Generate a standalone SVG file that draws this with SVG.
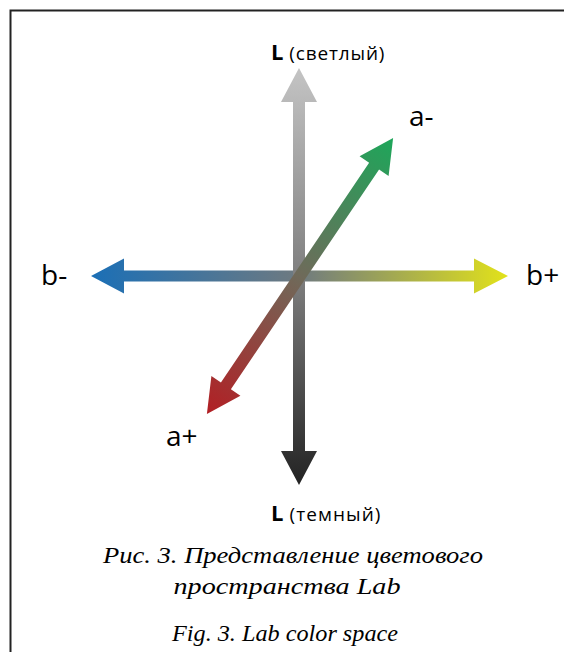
<svg xmlns="http://www.w3.org/2000/svg" width="564" height="652" viewBox="0 0 564 652">
<defs>
<linearGradient id="gV" x1="0" y1="0" x2="0" y2="1">
<stop offset="0" stop-color="#c4c4c4"/>
<stop offset="0.5" stop-color="#7f7f7f"/>
<stop offset="1" stop-color="#232323"/>
</linearGradient>
<linearGradient id="gH" x1="0" y1="0" x2="1" y2="0">
<stop offset="0" stop-color="#1b6fb6"/>
<stop offset="0.5" stop-color="#6f7a80"/>
<stop offset="1" stop-color="#e2e21a"/>
</linearGradient>
<linearGradient id="gD" x1="0" y1="0" x2="1" y2="0">
<stop offset="0" stop-color="#b21f24"/>
<stop offset="0.5" stop-color="#6f6a5a"/>
<stop offset="1" stop-color="#1ea65a"/>
</linearGradient>
</defs>
<style>
.lbl{font-family:"Open Sans","Noto Sans",sans-serif;fill:#000}
.ax{font-size:28px}
.cap{font-family:"Liberation Serif","Times New Roman",serif;font-style:italic;font-size:24px;fill:#000;text-anchor:middle}
</style>
<g id="frame" fill="none" stroke="#222" stroke-width="2">
<path d="M10.5 652 V10.5 H564"/>
</g>
<g id="connectors">
<g id="axis-b">
<path fill="url(#gH)" d="M91 276 L124 258.5 L124 270.5 L474 270.5 L474 258.5 L508 276 L474 293.5 L474 281.5 L124 281.5 L124 293.5 Z"/>
</g>
<g id="axis-L">
<path fill="url(#gV)" d="M299 68 L317 102 L305 102 L305 451 L317 451 L299 485 L281 451 L293 451 L293 102 L281 102 Z"/>
</g>
<g id="axis-a" transform="translate(300 276) rotate(-56)">
<path fill="url(#gD)" d="M-166.5 0 L-132.5 -17.5 L-132.5 -6 L132.5 -6 L132.5 -17.5 L166.5 0 L132.5 17.5 L132.5 6 L-132.5 6 L-132.5 17.5 Z"/>
</g>
</g>
<g id="label-Ltop"><text class="lbl" x="271" y="60"><tspan font-weight="bold" font-size="22">L</tspan><tspan font-size="19" textLength="101"> (светлый)</tspan></text></g>
<g id="label-Lbot"><text class="lbl" x="271" y="521"><tspan font-weight="bold" font-size="22">L</tspan><tspan font-size="19" textLength="97"> (темный)</tspan></text></g>
<g id="label-aminus"><text class="lbl ax" x="409" y="126">a-</text></g>
<g id="label-aplus"><text class="lbl ax" x="166" y="446">a+</text></g>
<g id="label-bminus"><text class="lbl ax" x="41" y="285">b-</text></g>
<g id="label-bplus"><text class="lbl ax" x="526" y="285">b+</text></g>
<g id="caption">
<text class="cap" x="293" y="563" textLength="380" lengthAdjust="spacingAndGlyphs">Рис. 3. Представление цветового</text>
<text class="cap" x="287" y="594" textLength="227" lengthAdjust="spacingAndGlyphs">пространства Lab</text>
<text class="cap" x="285" y="641" textLength="226" lengthAdjust="spacingAndGlyphs">Fig. 3. Lab color space</text>
</g>
</svg>
